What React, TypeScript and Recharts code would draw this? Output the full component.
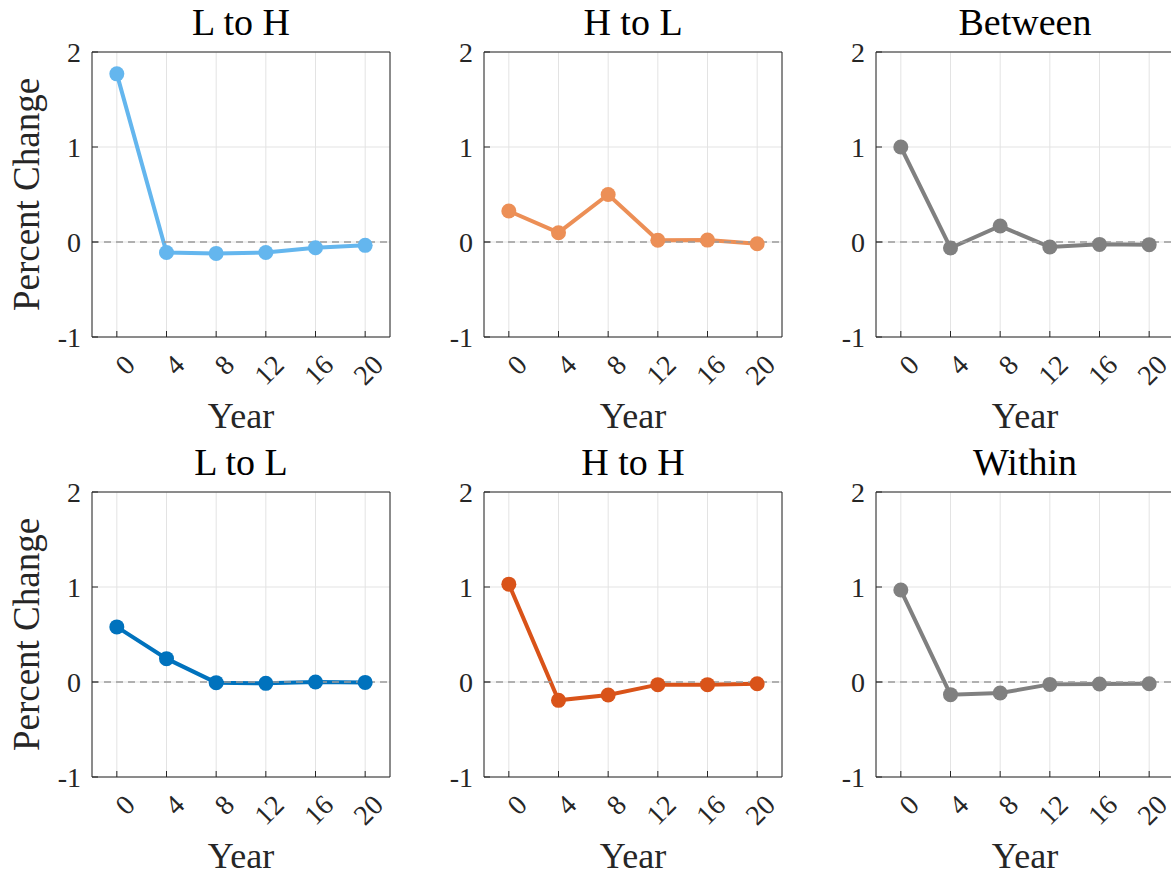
import React from "react";
import {
  LineChart,
  Line,
  XAxis,
  YAxis,
  CartesianGrid,
  ReferenceLine,
  Label,
} from "recharts";

const years = [0, 4, 8, 12, 16, 20];
const yTicks = [-1, 0, 1, 2];

const lowToHigh = [1.77, -0.11, -0.12, -0.11, -0.06, -0.035];
const highToLow = [0.326, 0.098, 0.5, 0.018, 0.02, -0.018];
const between = [1.0, -0.063, 0.168, -0.053, -0.025, -0.028];
const lowToLow = [0.58, 0.246, -0.007, -0.014, 0.0, -0.004];
const highToHigh = [1.03, -0.193, -0.137, -0.028, -0.028, -0.018];
const within = [0.968, -0.133, -0.116, -0.025, -0.021, -0.018];

const titles = ["L to H", "H to L", "Between", "L to L", "H to H", "Within"];
const colors = ["#64B6EE", "#EC8F56", "#808080", "#0072BD", "#D95319", "#808080"];
const seriesList = [lowToHigh, highToLow, between, lowToLow, highToHigh, within];

const AXIS = "#262626";
const FONT = "'Liberation Serif', 'Times New Roman', serif";

function YearTick({ x, y, payload }: any) {
  const tx = x + 13;
  const ty = y + 29;
  return (
    <text
      x={tx}
      y={ty}
      textAnchor="end"
      dominantBaseline="central"
      fontSize={28}
      fontFamily={FONT}
      fill={AXIS}
      transform={`rotate(-45 ${tx} ${ty})`}
    >
      {payload.value}
    </text>
  );
}

function Panel({ index }: { index: number }) {
  const values = seriesList[index];
  const data = years.map((year, i) => ({ year, value: values[i] }));
  const color = colors[index];
  const col = index % 3;
  const row = Math.floor(index / 3);

  return (
    <div style={{ position: "absolute", left: col * 392, top: row * 440 }}>
      <LineChart
        width={400}
        height={440}
        data={data}
        margin={{ top: 51, right: 9, bottom: 12, left: 32 }}
      >
        <CartesianGrid stroke="#e3e3e3" strokeWidth={1} />
        <XAxis
          dataKey="year"
          type="number"
          domain={[-2, 22]}
          ticks={years}
          height={91}
          stroke={AXIS}
          tickSize={-6}
          tickMargin={0}
          tick={<YearTick />}
        >
          <Label
            value="Year"
            position="insideBottom"
            offset={0}
            fontSize={36}
            fontFamily={FONT}
            fill={AXIS}
          />
        </XAxis>
        <XAxis
          xAxisId="top"
          orientation="top"
          dataKey="year"
          type="number"
          domain={[-2, 22]}
          ticks={years}
          height={1}
          stroke={AXIS}
          tickSize={-6}
          tick={false}
        >
          <Label
            value={titles[index]}
            position="top"
            offset={16}
            fontSize={38}
            fontFamily={FONT}
            fill="#000"
          />
        </XAxis>
        <YAxis
          domain={[-1, 2]}
          ticks={yTicks}
          width={60}
          stroke={AXIS}
          tickSize={-6}
          tickMargin={17}
          tick={{ fill: AXIS, fontSize: 28, fontFamily: FONT }}
        >
          {col === 0 && (
            <Label
              value="Percent Change"
              angle={-90}
              position="insideLeft"
              offset={-6}
              fontSize={37}
              fontFamily={FONT}
              fill={AXIS}
              style={{ textAnchor: "middle" }}
            />
          )}
        </YAxis>
        <YAxis
          yAxisId="right"
          orientation="right"
          domain={[-1, 2]}
          ticks={yTicks}
          width={1}
          stroke={AXIS}
          tickSize={-6}
          tick={false}
        />
        <Line
          type="linear"
          dataKey="value"
          stroke={color}
          strokeWidth={4}
          dot={{ r: 7.5, fill: color, stroke: color, strokeWidth: 0 }}
          activeDot={false}
          isAnimationActive={false}
        />
        <ReferenceLine y={0} stroke="#9a9a9a" strokeWidth={1.5} strokeDasharray="7 5" />
      </LineChart>
    </div>
  );
}

export default function App() {
  return (
    <div
      style={{
        position: "absolute",
        left: 0,
        top: 0,
        width: 1171,
        height: 877,
        overflow: "hidden",
        background: "#fff",
        fontFamily: FONT,
      }}
    >
      {titles.map((_, i) => (
        <Panel key={i} index={i} />
      ))}
    </div>
  );
}
